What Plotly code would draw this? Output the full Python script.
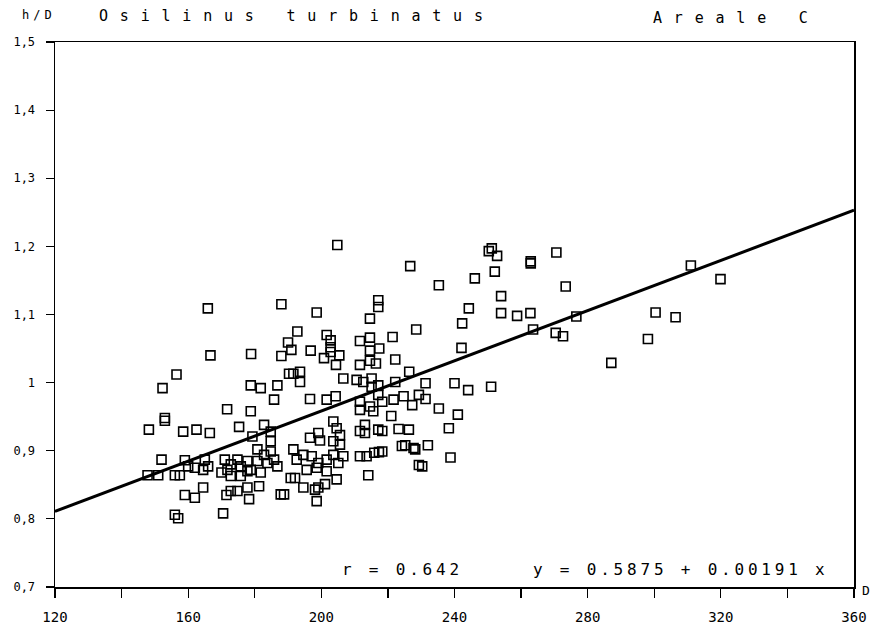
import plotly.graph_objects as go

# Shell diameter D and height/diameter ratio h/D
D = [
    204.8, 165.9, 188.0, 198.6, 217.1, 217.1, 214.6, 192.8, 190.0, 191.0,
    188.0, 196.8, 201.6, 202.8, 202.8, 202.8, 200.8, 205.4, 204.4, 211.6,
    214.6, 214.6, 217.4, 214.6, 211.6, 216.4, 166.7, 178.9,
    156.5, 190.3, 191.6, 193.6, 193.6, 206.6, 210.6, 212.6, 215.1, 215.1,
    217.1, 217.1, 152.3, 178.8, 181.8, 186.8, 185.8, 196.6, 201.6, 204.3,
    211.6, 214.6, 171.7, 178.8, 211.6, 215.6, 153.0, 153.0, 175.3, 182.8,
    184.8, 203.6, 204.6, 211.6, 213.1, 213.1, 217.1, 148.2, 158.5, 162.5,
    166.5, 179.3, 184.8, 196.6, 199.1, 199.6, 203.6, 205.6, 205.6, 152.0,
    159.0, 160.0, 165.0, 166.0, 147.8, 151.0, 156.0, 157.5, 162.0, 164.5,
    171.0, 171.8, 172.8, 174.8, 175.8, 177.8, 178.8, 180.8, 182.8, 183.8,
    184.8, 185.8, 186.8, 180.8, 170.0, 172.8, 175.8, 177.8, 181.8, 191.6,
    192.6, 194.6, 197.1, 199.1, 201.6, 203.6, 205.1, 206.6, 190.8, 192.1,
    195.6, 198.6, 201.6, 204.6, 211.6, 213.6, 214.1, 159.0, 162.0, 164.5,
    171.5, 172.8, 174.8, 177.8, 178.3, 181.3, 187.8, 188.8, 194.6, 198.1,
    199.1, 201.1, 198.6, 156.0, 157.0, 170.5,
    250.3, 251.2, 252.8, 270.6, 262.9, 262.9, 226.7, 273.4, 235.3, 246.1,
    252.1, 254.0, 254.0, 258.8, 262.8, 276.6, 244.3, 242.3, 228.5, 263.6,
    270.4, 272.6, 242.1, 221.4, 222.2, 226.4, 231.3, 240.0, 244.1, 251.0,
    287.1, 222.2, 224.7, 221.7, 218.3, 229.3, 231.3, 227.3, 235.3, 241.0,
    221.0,
    218.3, 223.2, 226.3, 238.3, 215.9, 217.3, 218.3, 224.2, 225.2, 227.7,
    228.2, 232.0, 238.8, 229.3, 230.3,
    311.0, 319.9, 300.4, 306.4, 298.1,
]
HD = [
    1.202, 1.109, 1.115, 1.103, 1.121, 1.111, 1.094, 1.075, 1.059, 1.048,
    1.039, 1.047, 1.070, 1.062, 1.052, 1.045, 1.036, 1.040, 1.026, 1.061,
    1.066, 1.047, 1.050, 1.032, 1.026, 1.028, 1.040, 1.042,
    1.012, 1.013, 1.013, 1.016, 1.001, 1.006, 1.004, 1.001, 1.006, 0.994,
    0.996, 0.982, 0.992, 0.996, 0.992, 0.996, 0.975, 0.976, 0.975, 0.980,
    0.972, 0.965, 0.961, 0.958, 0.960, 0.958, 0.948, 0.944, 0.935, 0.938,
    0.928, 0.943, 0.933, 0.929, 0.938, 0.926, 0.931, 0.931, 0.928, 0.931,
    0.926, 0.921, 0.914, 0.919, 0.926, 0.915, 0.914, 0.923, 0.909, 0.887,
    0.886, 0.877, 0.887, 0.877, 0.864, 0.864, 0.864, 0.864, 0.875, 0.872,
    0.887, 0.872, 0.880, 0.887, 0.877, 0.885, 0.872, 0.885, 0.894, 0.882,
    0.899, 0.887, 0.877, 0.902, 0.868, 0.863, 0.863, 0.870, 0.868, 0.902,
    0.887, 0.894, 0.892, 0.882, 0.887, 0.894, 0.882, 0.892, 0.860, 0.860,
    0.872, 0.875, 0.870, 0.858, 0.892, 0.892, 0.864, 0.835, 0.831, 0.846,
    0.835, 0.841, 0.841, 0.846, 0.829, 0.848, 0.836, 0.836, 0.846, 0.843,
    0.846, 0.851, 0.826, 0.806, 0.801, 0.808,
    1.193, 1.197, 1.186, 1.191, 1.178, 1.175, 1.171, 1.141, 1.143, 1.153,
    1.163, 1.127, 1.102, 1.098, 1.102, 1.097, 1.109, 1.087, 1.078, 1.078,
    1.073, 1.068, 1.051, 1.067, 1.034, 1.016, 0.999, 0.999, 0.989, 0.994,
    1.029, 1.001, 0.980, 0.975, 0.972, 0.982, 0.976, 0.967, 0.962, 0.953,
    0.951,
    0.929, 0.932, 0.931, 0.933, 0.897, 0.898, 0.899, 0.907, 0.908, 0.904,
    0.902, 0.908, 0.890, 0.879, 0.877,
    1.172, 1.152, 1.103, 1.096, 1.064,
]

# regression line as drawn (end points)
line_x = [120, 360]
line_y = [0.811, 1.253]

x_ticks = [120, 140, 160, 180, 200, 220, 240, 260, 280, 300, 320, 340, 360]
x_labels = ["120", "", "160", "", "200", "", "240", "", "280", "", "320", "", "360"]
y_ticks = [0.7, 0.8, 0.9, 1.0, 1.1, 1.2, 1.3, 1.4, 1.5]
y_labels = ["0,7", "0,8", "0,9", "1", "1,1", "1,2", "1,3", "1,4", "1,5"]

FONT = "DejaVu Sans Mono"

fig = go.Figure()
fig.add_trace(go.Scatter(
    x=line_x, y=line_y, mode="lines",
    line=dict(color="black", width=3), hoverinfo="skip", showlegend=False))
fig.add_trace(go.Scatter(
    x=D, y=HD, mode="markers",
    marker=dict(symbol="square-open", size=9, color="black",
                line=dict(color="black", width=1.6)),
    showlegend=False))

fig.update_layout(
    width=879, height=637,
    margin=dict(l=55, r=22, t=42, b=48),
    paper_bgcolor="white", plot_bgcolor="white",
    font=dict(family=FONT, color="black"),
    xaxis=dict(range=[120, 360], tickmode="array", tickvals=x_ticks, ticktext=x_labels,
               showgrid=False, zeroline=False, showline=True, linecolor="black",
               linewidth=1.5, mirror=True, ticks="outside", ticklen=9, tickwidth=1.2,
               tickcolor="black", tickfont=dict(family=FONT, size=14), ticklabelstandoff=8),
    yaxis=dict(range=[0.7, 1.5], tickmode="array", tickvals=y_ticks, ticktext=y_labels,
               showgrid=False, zeroline=False, showline=True, linecolor="black",
               linewidth=1.5, mirror=True, ticks="outside", ticklen=8, tickwidth=1.2,
               tickcolor="black", tickfont=dict(family=FONT, size=12), ticklabelstandoff=8),
)

def txt(s, x, y, size, spacing, xanchor="left"):
    fig.add_annotation(
        text=f'<span style="letter-spacing:{spacing}px">{s}</span>',
        xref="paper", yref="paper", x=x, y=y, xanchor=xanchor, yanchor="middle",
        showarrow=False, font=dict(family=FONT, size=size, color="black"))

W, H, L, B = 802, 547, 55, 589
def px(p):
    return (p - L) / W
def py(p):
    return (B - p) / H

txt("h/D", px(20), py(15), 12, 4)
txt("Osilinus turbinatus", px(97), py(16), 15, 11.8)
txt("Areale C", px(653), py(18), 15, 11.8)
txt("r = 0.642", px(341), py(571), 16, 3.8)
txt("y = 0.5875 + 0.00191 x", px(533), py(571), 16, 3.8)
txt("D", px(863), py(593), 13, 0)

fig.write_html(
    "out.html",
    config={"displayModeBar": False, "staticPlot": True},
    post_script="document.body.style.margin='0';document.body.style.overflow='hidden';",
)
